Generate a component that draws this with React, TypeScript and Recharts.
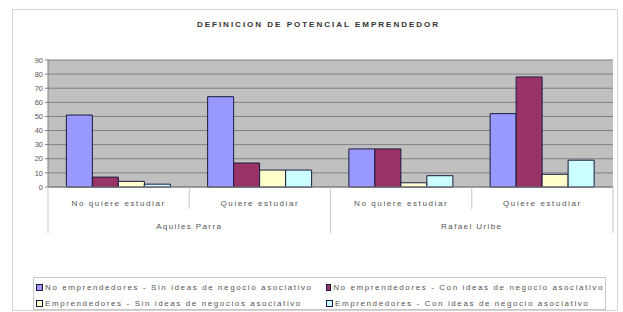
import React from 'react';
import { BarChart, Bar, XAxis, YAxis, CartesianGrid } from 'recharts';

const categories = ['No quiere estudiar', 'Quiere estudiar', 'No quiere estudiar', 'Quiere estudiar'];
const groups = ['Aquiles Parra', 'Aquiles Parra', 'Rafael Uribe', 'Rafael Uribe'];
const noEmpSin = [51, 64, 27, 52];
const noEmpCon = [7, 17, 27, 78];
const empSin = [4, 12, 3, 9];
const empCon = [2, 12, 8, 19];
const yTicks = [0, 10, 20, 30, 40, 50, 60, 70, 80, 90];

const seriesNames = [
  'No emprendedores - Sin ideas de negocio asociativo',
  'No emprendedores - Con ideas de negocio asociativo',
  'Emprendedores - Sin ideas de negocios asociativo',
  'Emprendedores - Con ideas de negocio asociativo',
];
const seriesColors = ['#9999ff', '#993366', '#ffffcc', '#ccffff'];
const seriesKeys = ['s1', 's2', 's3', 's4'];

const data = categories.map((cat, i) => ({
  cat,
  group: groups[i],
  s1: noEmpSin[i],
  s2: noEmpCon[i],
  s3: empSin[i],
  s4: empCon[i],
}));

const W = 623;
const H = 312;
const MARGIN = { top: 60, right: 10, bottom: 77, left: 16 };
const Y_W = 32;
const BAND = (W - MARGIN.left - MARGIN.right - Y_W) / categories.length;
const FONT = '"Liberation Sans", Arial, sans-serif';
const TXT = '#555';

const CatTick = (props: any) => {
  const { x, y, payload, index } = props;
  const left = x - BAND / 2;
  const groupStart = index % 2 === 0;
  return (
    <g>
      <line x1={left} y1={y} x2={left} y2={y + (groupStart ? 46 : 22)} stroke="#c8c8c8" />
      {index === categories.length - 1 && (
        <line x1={x + BAND / 2} y1={y} x2={x + BAND / 2} y2={y + 46} stroke="#c8c8c8" />
      )}
      <text x={x} y={y + 19} textAnchor="middle" fontSize={8} fill={TXT} letterSpacing={1.6} fontFamily={FONT}>
        {payload.value}
      </text>
    </g>
  );
};

const GroupTick = (props: any) => {
  const { x, y, payload } = props;
  return (
    <text x={x} y={y + 19} textAnchor="middle" fontSize={8} fill={TXT} letterSpacing={1.4} fontFamily={FONT}>
      {payload.value}
    </text>
  );
};

const App: React.FC = () => {
  return (
    <div style={{ position: 'absolute', left: 0, top: 0, width: W, height: H, background: '#fff', fontFamily: FONT }}>
      <div style={{ position: 'absolute', left: 12, top: 9, width: 604, height: 300, border: '1px solid #d4d4d4' }} />
      <div
        style={{
          position: 'absolute',
          left: 0,
          top: 20,
          width: 637,
          textAlign: 'center',
          fontSize: 8,
          lineHeight: '10px',
          fontWeight: 'bold',
          letterSpacing: 2,
          color: '#333',
        }}
      >
        DEFINICION DE POTENCIAL EMPRENDEDOR
      </div>
      <div style={{ position: 'absolute', left: 0, top: 0 }}>
        <BarChart width={W} height={H} data={data} margin={MARGIN} barCategoryGap="13%" barGap={0}>
          <CartesianGrid vertical={false} fill="#c0c0c0" stroke="#808080" strokeWidth={1} />
          <XAxis
            xAxisId="cat"
            dataKey="cat"
            height={23}
            tickLine={false}
            tickSize={0}
            tickMargin={0}
            axisLine={{ stroke: '#808080' }}
            tick={<CatTick />}
            interval={0}
          />
          <XAxis
            xAxisId="group"
            dataKey="group"
            allowDuplicatedCategory={false}
            height={25}
            tickLine={false}
            tickSize={0}
            tickMargin={0}
            axisLine={false}
            tick={<GroupTick />}
            interval={0}
          />
          <YAxis
            width={Y_W}
            domain={[0, 90]}
            ticks={yTicks}
            interval={0}
            axisLine={{ stroke: '#808080' }}
            tickLine={{ stroke: '#808080' }}
            tickSize={3}
            tick={{ fontSize: 7.5, fill: TXT, fontFamily: FONT }}
          />
          {seriesKeys.map((k, i) => (
            <Bar
              key={k}
              xAxisId="cat"
              dataKey={k}
              name={seriesNames[i]}
              fill={seriesColors[i]}
              stroke="#1a1a40"
              strokeWidth={1}
              isAnimationActive={false}
            />
          ))}
        </BarChart>
      </div>
      <div
        style={{
          position: 'absolute',
          left: 33,
          top: 277,
          width: 573,
          height: 33,
          border: '1px solid #c8c8c8',
          display: 'grid',
          gridTemplateColumns: '290px 280px',
          gridAutoRows: '16px',
          paddingTop: 1,
          boxSizing: 'border-box',
        }}
      >
        {seriesNames.map((name, i) => (
          <div key={name} style={{ display: 'flex', alignItems: 'center', paddingLeft: 2, whiteSpace: 'nowrap' }}>
            <span
              style={{
                display: 'inline-block',
                width: 5,
                height: 5,
                background: seriesColors[i],
                border: '1px solid #1a1a40',
                marginRight: 2,
              }}
            />
            <span style={{ fontSize: 8, color: TXT, letterSpacing: 1.6 }}>{name}</span>
          </div>
        ))}
      </div>
    </div>
  );
};

export default App;
